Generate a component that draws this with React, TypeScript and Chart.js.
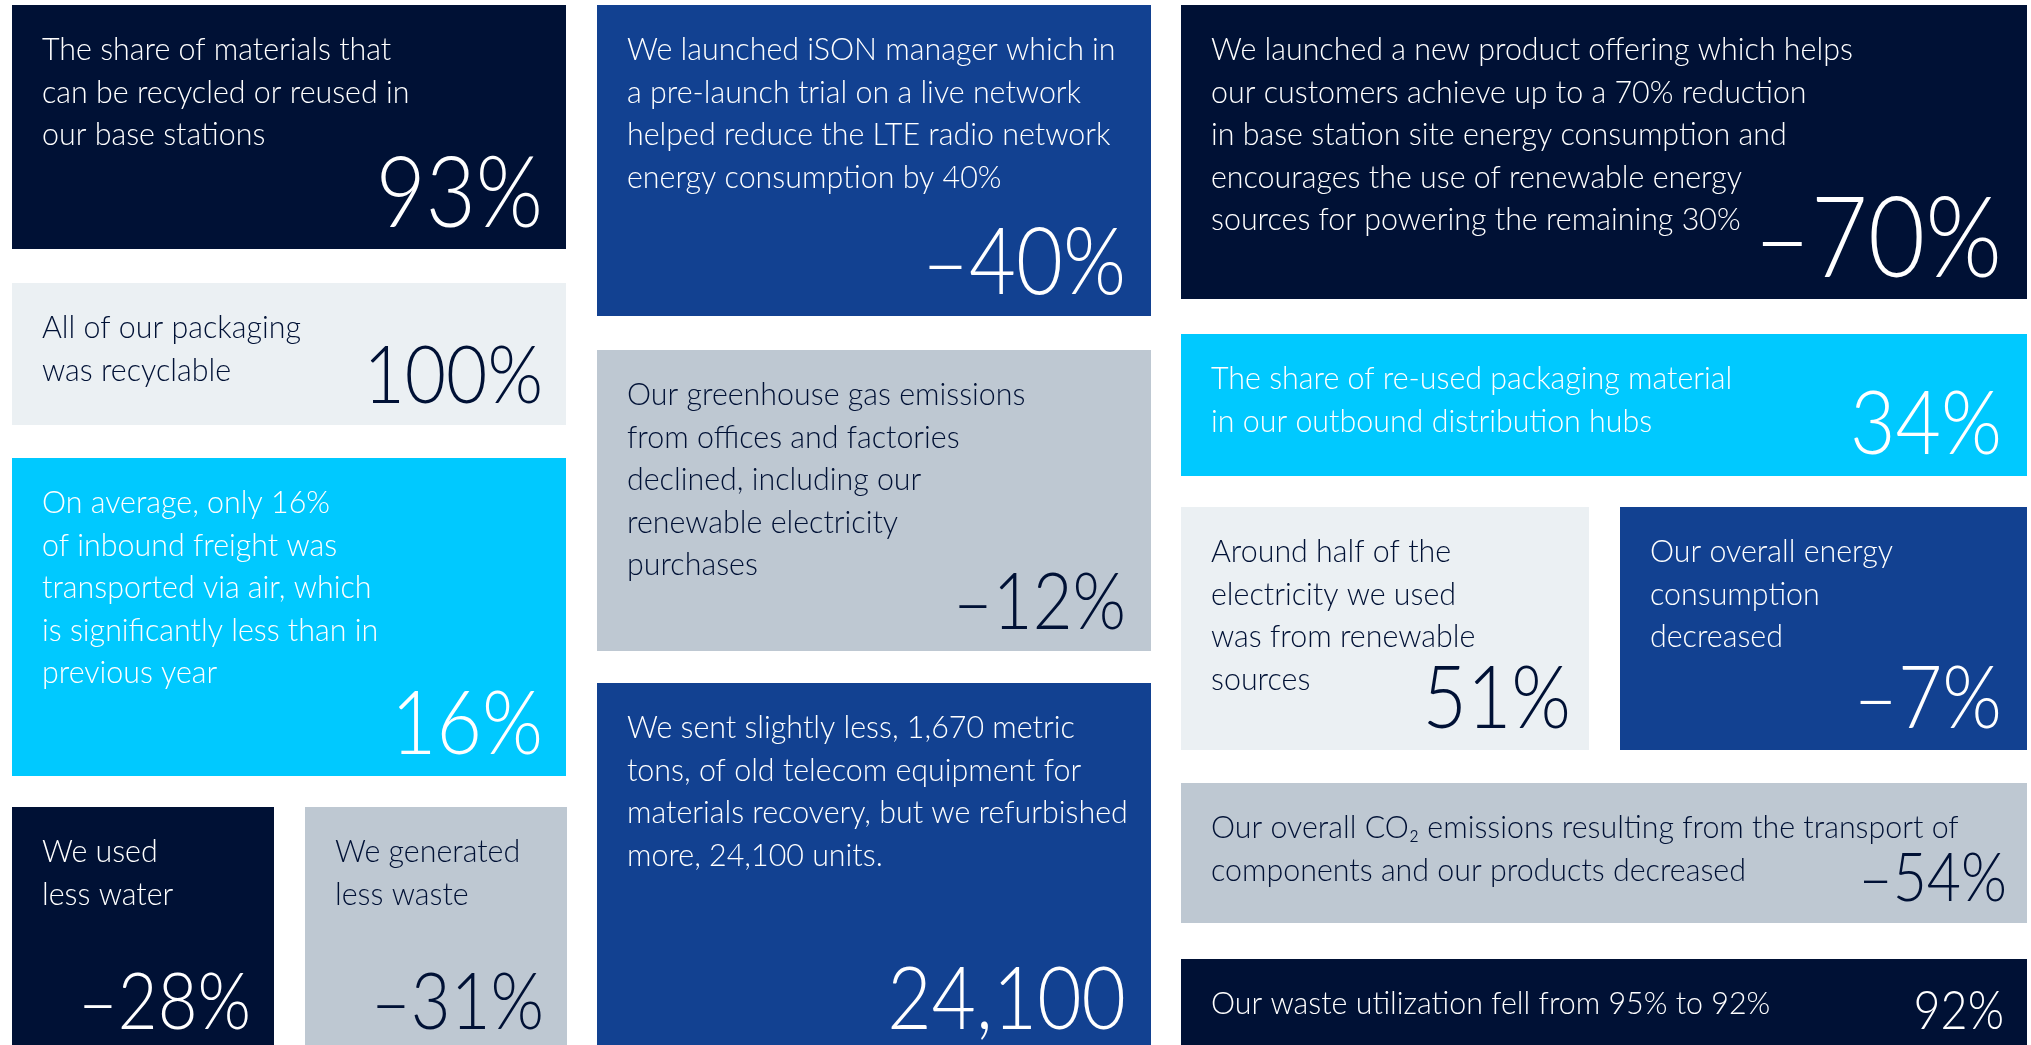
import { useEffect, useRef } from "react";
import { Chart, registerables } from "chart.js";

Chart.register(...registerables);

// ---- Data ----
const tileTexts: string[][] = [
  ["The share of materials that", "can be recycled or reused in", "our base stations"],
  ["All of our packaging", "was recyclable"],
  ["On average, only 16%", "of inbound freight was", "transported via air, which", "is significantly less than in", "previous year"],
  ["We used", "less water"],
  ["We generated", "less waste"],
  ["We launched iSON manager which in", "a pre-launch trial on a live network", "helped reduce the LTE radio network", "energy consumption by 40%"],
  ["Our greenhouse gas emissions", "from offices and factories", "declined, including our", "renewable electricity", "purchases"],
  ["We sent slightly less, 1,670 metric", "tons, of old telecom equipment for", "materials recovery, but we refurbished", "more, 24,100 units."],
  ["We launched a new product offering which helps", "our customers achieve up to a 70% reduction", "in base station site energy consumption and", "encourages the use of renewable energy", "sources for powering the remaining 30%"],
  ["The share of re-used packaging material", "in our outbound distribution hubs"],
  ["Around half of the", "electricity we used", "was from renewable", "sources"],
  ["Our overall energy", "consumption", "decreased"],
  ["Our overall CO\u2082 emissions resulting from the transport of", "components and our products decreased"],
  ["Our waste utilization fell from 95% to 92%"],
];

const tileValues: string[] = [
  "93%", "100%", "16%", "\u201328%", "\u201331%", "\u201340%", "\u201312%", "24,100",
  "\u201370%", "34%", "51%", "\u20137%", "\u201354%", "92%",
];

// ---- Layout & styles (page units) ----
const NAVY = "#001135";
const BLUE = "#124191";
const CYAN = "#00C9FF";
const LIGHT = "#EBF0F3";
const GREY = "#BEC8D2";
const WHITE = "#FFFFFF";
const INK = "#001135";

const LAYOUT = [
  { x0: 12, x1: 566, y0: 5, y1: 249, bg: NAVY, fg: WHITE, cap: 70, inset: 23 },
  { x0: 12, x1: 566, y0: 283, y1: 425, bg: LIGHT, fg: INK, cap: 58, inset: 23 },
  { x0: 12, x1: 566, y0: 458, y1: 776, bg: CYAN, fg: WHITE, cap: 64, inset: 23 },
  { x0: 12, x1: 274, y0: 807, y1: 1051, bg: NAVY, fg: WHITE, cap: 56, inset: 23 },
  { x0: 305, x1: 567, y0: 807, y1: 1051, bg: GREY, fg: INK, cap: 56, inset: 23 },
  { x0: 597, x1: 1151, y0: 5, y1: 316, bg: BLUE, fg: WHITE, cap: 66, inset: 25 },
  { x0: 597, x1: 1151, y0: 350, y1: 651, bg: GREY, fg: INK, cap: 56, inset: 25 },
  { x0: 597, x1: 1151, y0: 683, y1: 1051, bg: BLUE, fg: WHITE, cap: 62, inset: 25 },
  { x0: 1181, x1: 2027, y0: 5, y1: 299, bg: NAVY, fg: WHITE, cap: 80, inset: 25 },
  { x0: 1181, x1: 2027, y0: 334, y1: 476, bg: CYAN, fg: WHITE, cap: 64, inset: 25 },
  { x0: 1181, x1: 1589, y0: 507, y1: 750, bg: LIGHT, fg: INK, cap: 62, inset: 18 },
  { x0: 1620, x1: 2027, y0: 507, y1: 750, bg: BLUE, fg: WHITE, cap: 62, inset: 25 },
  { x0: 1181, x1: 2027, y0: 783, y1: 923, bg: GREY, fg: INK, cap: 48, inset: 20 },
  { x0: 1181, x1: 2027, y0: 959, y1: 1051, bg: NAVY, fg: WHITE, cap: 38, inset: 23 },
];

const W = 2031;
const H = 1045;
const FONT = '"Lato", "Open Sans", sans-serif';
const BODY_SIZE = 32;
const BODY_SX = 0.95;
const NUM_SX = 0.88;
const TEXT_INSET = 30;
const FIRST_BASELINE = 55;
const LINE_H = 42.5;
const NUM_BOTTOM = 22;
const CAP_RATIO = 0.7165;

function drawScaled(ctx: CanvasRenderingContext2D, text: string, x: number, y: number, sx: number, align: CanvasTextAlign) {
  ctx.save();
  ctx.translate(x, y);
  ctx.scale(sx, 1);
  ctx.textAlign = align;
  ctx.textBaseline = "alphabetic";
  ctx.fillText(text, 0, 0);
  ctx.restore();
}

const tilePlugin = {
  id: "tiles",
  afterDatasetsDraw(chart: any) {
    const ctx: CanvasRenderingContext2D = chart.ctx;
    const xs = chart.scales.x;
    const ys = chart.scales.y;
    LAYOUT.forEach((t, i) => {
      const px0 = xs.getPixelForValue(t.x0);
      const px1 = xs.getPixelForValue(t.x1);
      const py0 = ys.getPixelForValue(t.y0);
      const py1 = ys.getPixelForValue(t.y1);
      ctx.save();
      ctx.fillStyle = t.bg;
      ctx.fillRect(px0, py0, px1 - px0, py1 - py0);
      ctx.fillStyle = t.fg;
      ctx.font = `300 ${BODY_SIZE}px ${FONT}`;
      tileTexts[i].forEach((line, k) => {
        const ly = ys.getPixelForValue(t.y0 + FIRST_BASELINE + k * LINE_H);
        drawScaled(ctx, line, xs.getPixelForValue(t.x0 + TEXT_INSET), ly, BODY_SX, "left");
      });
      const size = Math.round(t.cap / CAP_RATIO);
      ctx.font = `300 ${size}px ${FONT}`;
      const vy = ys.getPixelForValue(t.y1 - NUM_BOTTOM);
      drawScaled(ctx, tileValues[i], xs.getPixelForValue(t.x1 - t.inset), vy, NUM_SX, "right");
      ctx.restore();
    });
  },
};

export default function App() {
  const ref = useRef<HTMLCanvasElement | null>(null);
  useEffect(() => {
    document.body.style.margin = "0";
    const canvas = ref.current!;
    const chart = new Chart(canvas, {
      type: "scatter",
      data: {
        datasets: [
          {
            label: "tiles",
            data: LAYOUT.map((t) => ({ x: (t.x0 + t.x1) / 2, y: (t.y0 + t.y1) / 2 })),
            pointRadius: 0,
            pointHoverRadius: 0,
          },
        ],
      },
      options: {
        responsive: false,
        animation: false,
        devicePixelRatio: 1,
        layout: { padding: 0 },
        plugins: { legend: { display: false }, tooltip: { enabled: false } },
        events: [],
        scales: {
          x: { type: "linear", min: 0, max: W, display: false },
          y: { type: "linear", min: 0, max: H, reverse: true, display: false },
        },
      },
      plugins: [tilePlugin],
    });
    return () => chart.destroy();
  }, []);
  return (
    <div style={{ position: "fixed", left: 0, top: 0, width: W, height: H, background: "#fff" }}>
      <canvas ref={ref} width={W} height={H} style={{ display: "block" }} />
    </div>
  );
}
